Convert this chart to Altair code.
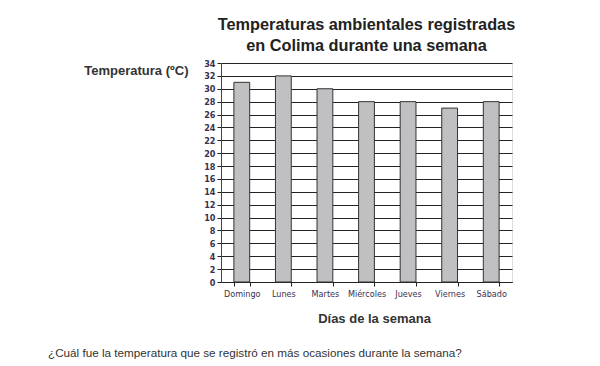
import altair as alt
import pandas as pd

days = ["Domingo", "Lunes", "Martes", "Miércoles", "Jueves", "Viernes", "Sábado"]
temps = [31, 32, 30, 28, 28, 27, 28]
y_ticks = list(range(0, 35, 2))
title_lines = ["Temperaturas ambientales registradas", "en Colima durante una semana"]
y_title = "Temperatura (ºC)"
x_title = "Días de la semana"
question = ["¿Cuál fue la temperatura que se registró en más ocasiones durante la semana?"]

df = pd.DataFrame({"dia": days, "temp": temps})
qdf = pd.DataFrame({"q": question})

FONT = "Liberation Sans"
NARROW = "Liberation Sans Narrow, DejaVu Sans Condensed, sans-serif"

bars = alt.Chart(df).mark_bar(
    fill="#c0c0c3", stroke="#333333", strokeWidth=1
).encode(
    x=alt.X(
        "dia:N", sort=days,
        scale=alt.Scale(paddingInner=0.62, paddingOuter=0.31),
        axis=alt.Axis(
            title=x_title, titleFont=FONT, titleFontSize=13, titleFontWeight="bold",
            titleColor="#333333", titleY=36, titleX=153, titleBaseline="middle",
            labelAngle=0, labelFont=NARROW, labelFontSize=9, labelColor="#3a3050",
            tickBand="extent", tickSize=4, tickColor="#222222",
            domainColor="#222222", labelPadding=3,
        ),
    ),
    y=alt.Y(
        "temp:Q", scale=alt.Scale(domain=[0, 34], nice=False),
        axis=alt.Axis(
            values=y_ticks, grid=True, gridColor="#222222", gridWidth=1, gridOpacity=1,
            title=y_title, titleAngle=0, titleAlign="right", titleBaseline="middle",
            titleX=-33, titleY=7, titleFont=FONT, titleFontSize=13,
            titleFontWeight="bold", titleColor="#333333",
            labelFont=NARROW, labelFontSize=9, labelFontWeight="bold",
            labelColor="#3a3050", tickSize=4, tickColor="#222222",
            domainColor="#444444", labelPadding=2,
        ),
    ),
)

qtext = alt.Chart(qdf).mark_text(
    align="left", baseline="middle", font=FONT, fontSize=11.7, color="#333333"
).encode(
    text="q:N", x=alt.value(-173), y=alt.value(290)
)

chart = alt.layer(bars, qtext).properties(
    width=291, height=219,
    title=alt.TitleParams(
        text=title_lines, font=FONT, fontSize=16.3, fontWeight="bold",
        color="#222222", anchor="middle", offset=5, lineHeight=21,
    ),
    autosize=alt.AutoSizeParams(type="none"),
    padding={"left": 213, "top": 55, "right": 80, "bottom": 82},
).configure_view(stroke=None).configure(background="white")

chart.save("out.html", embed_options={"renderer": "svg", "actions": False})
